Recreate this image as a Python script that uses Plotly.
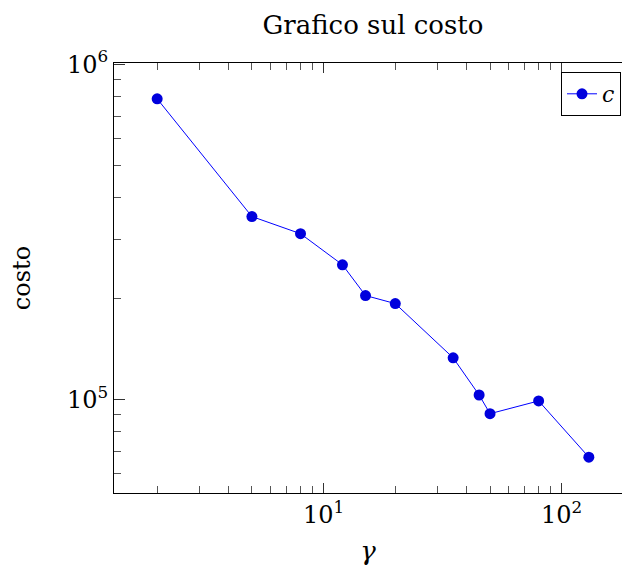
import numpy as np
import plotly.graph_objects as go

# Data
gamma = [2, 5, 8, 12, 15, 20, 35, 45, 50, 80, 130]
costo = [788000, 351000, 312000, 252000, 204000, 193000, 133000, 103000, 90600, 98900, 67200]
series_name = "c"
title_text = "Grafico sul costo"
x_label = "γ"
y_label = "costo"
x_tickvals = [10, 100]
x_ticktext = ["10<sup>1</sup>", "10<sup>2</sup>"]
y_tickvals = [1e5, 1e6]
y_ticktext = ["10<sup>5</sup>", "10<sup>6</sup>"]

W, H = 622, 566
ml, mt, mb = 114, 63, 73
plot_w_full = 632 - 114  # pgfplots axis width (right edge lies beyond the image)
plot_w_vis = W - ml
plot_h = H - mt - mb

# pgfplots-like 10% enlargement of log limits
lx = np.log10(gamma)
ly = np.log10(costo)
ex = 0.1 * (lx.max() - lx.min())
ey = 0.1 * (ly.max() - ly.min())
x0, x1 = lx.min() - ex, lx.max() + ex
y0, y1 = ly.min() - ey, ly.max() + ey
x1c = x0 + (x1 - x0) * plot_w_vis / plot_w_full

minor_x = [m * 10 ** d for d in range(0, 3) for m in range(2, 10)]
minor_y = [m * 10 ** d for d in range(4, 6) for m in range(2, 10)]

serif = "DejaVu Serif, Liberation Serif, serif"

fig = go.Figure()
fig.add_trace(go.Scatter(
    x=gamma, y=costo, mode="lines+markers", name="<i>" + series_name + "</i>",
    line=dict(color="#0000ff", width=1),
    marker=dict(color="#0000dd", size=11, line=dict(width=0)),
))

fig.update_layout(
    width=W, height=H,
    margin=dict(l=ml, r=0, t=mt, b=mb),
    plot_bgcolor="white", paper_bgcolor="white",
    font=dict(family=serif, color="black", size=24),
    title=dict(text=title_text, x=(ml + plot_w_full / 2) / W, xanchor="center",
               y=1 - 25 / H, yanchor="middle", yref="container",
               font=dict(size=26, family=serif)),
    showlegend=True,
    legend=dict(x=(621 - ml) / plot_w_vis, xanchor="right", y=1 - 9 / plot_h, yanchor="top",
                bordercolor="black", borderwidth=1, bgcolor="white",
                font=dict(size=22, family=serif), tracegroupgap=0),
)

fig.update_xaxes(
    type="log", range=[x0, x1c],
    showgrid=False, zeroline=False,
    showline=True, linecolor="black", linewidth=1, mirror="ticks",
    ticks="inside", ticklen=10, tickcolor="#333", tickwidth=1,
    tickvals=x_tickvals, ticktext=x_ticktext,
    tickfont=dict(size=24, family=serif),
    minor=dict(tickvals=minor_x, ticks="inside", ticklen=7, tickcolor="#555", tickwidth=1, showgrid=False),
    title=dict(text="<i>" + x_label + "</i>", font=dict(size=26, family=serif), standoff=14),
)
fig.update_yaxes(
    type="log", range=[y0, y1],
    showgrid=False, zeroline=False,
    showline=True, linecolor="black", linewidth=1, mirror=False,
    ticks="inside", ticklen=11, tickcolor="#333", tickwidth=1,
    tickvals=y_tickvals, ticktext=y_ticktext,
    tickfont=dict(size=24, family=serif),
    minor=dict(tickvals=minor_y, ticks="inside", ticklen=7, tickcolor="#555", tickwidth=1, showgrid=False),
    title=dict(text=y_label, font=dict(size=24, family=serif), standoff=29),
)

# remove the default page margin / scrollbars so the figure sits at the window's corner
fig.write_html(
    "out.html",
    config={"displayModeBar": False},
    post_script="document.body.style.margin='0';document.body.style.overflow='hidden';",
)
